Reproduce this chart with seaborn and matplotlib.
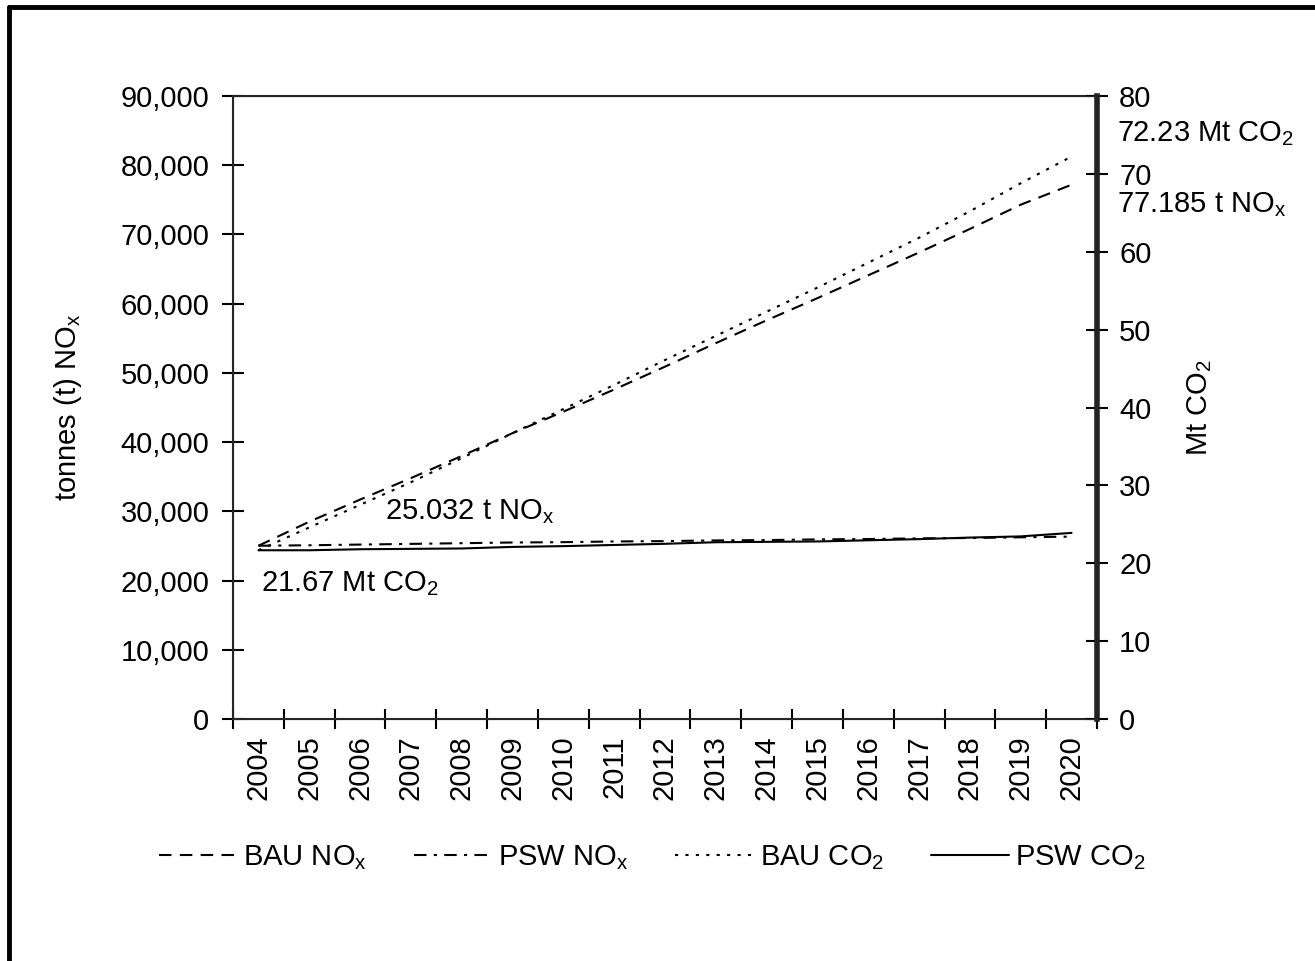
import numpy as np
import pandas as pd
import matplotlib
matplotlib.use("Agg")
import matplotlib.pyplot as plt
from matplotlib.lines import Line2D
from matplotlib.ticker import FuncFormatter
import seaborn as sns

# Datos
years = list(range(2004, 2021))
bau_nox = [25032, 28500, 31700, 34800, 38000, 41300, 44400, 47600, 50900,
           54300, 57600, 60800, 64100, 67400, 70800, 74300, 77185]
psw_nox = [25032, 25100, 25200, 25300, 25400, 25500, 25550, 25650, 25700,
           25800, 25850, 25950, 26000, 26100, 26150, 26250, 26350]
bau_co2 = [21.67, 24.6, 27.5, 30.4, 33.5, 36.7, 39.8, 42.9, 46.1,
           49.2, 52.3, 55.4, 58.6, 61.8, 65.2, 68.8, 72.23]
psw_co2 = [21.67, 21.67, 21.8, 21.85, 21.9, 22.1, 22.2, 22.35, 22.5,
           22.7, 22.75, 22.8, 22.95, 23.1, 23.3, 23.45, 23.9]

df = pd.DataFrame({"pos": np.arange(len(years)), "bau_nox": bau_nox,
                   "psw_nox": psw_nox, "bau_co2": bau_co2, "psw_co2": psw_co2})

sns.set_style("ticks")
plt.rcParams['font.family'] = ['Liberation Sans', 'DejaVu Sans']
plt.rcParams['mathtext.fontset'] = 'custom'
plt.rcParams['mathtext.rm'] = 'Liberation Sans'
plt.rcParams['mathtext.it'] = 'Liberation Sans'
plt.rcParams['mathtext.default'] = 'regular'
plt.rcParams['text.color'] = 'black'
plt.rcParams['axes.labelcolor'] = 'black'
plt.rcParams['xtick.color'] = 'black'
plt.rcParams['ytick.color'] = 'black'

fs = 21
fig = plt.figure(figsize=(13.15, 9.61), dpi=100)
ax = fig.add_axes([0.1772, 0.2518, 0.8342 - 0.1772, 0.9001 - 0.2518])
ax2 = ax.twinx()

lw = 1.5
sns.lineplot(data=df, x="pos", y="bau_nox", ax=ax, color="black", lw=lw, label="BAU NO$_x$")
sns.lineplot(data=df, x="pos", y="psw_nox", ax=ax, color="black", lw=lw, label="PSW NO$_x$")
sns.lineplot(data=df, x="pos", y="bau_co2", ax=ax2, color="black", lw=lw, label="BAU CO$_2$")
sns.lineplot(data=df, x="pos", y="psw_co2", ax=ax2, color="black", lw=lw, label="PSW CO$_2$")
ax.lines[0].set_dashes((6, 4))
ax.lines[1].set_dashes((6, 3.5, 1.5, 3.5))
ax2.lines[0].set_dashes((1.5, 3.5))
handles = [ax.lines[0], ax.lines[1], ax2.lines[0], ax2.lines[1]]
ax.get_legend().remove()
ax2.get_legend().remove()

n = len(years)
ax.set_xlim(-0.5, n - 0.5)
ax.set_ylim(0, 90000)
ax2.set_ylim(0, 80)

ax.set_xticks(np.arange(-0.5, n, 1.0))
ax.set_xticklabels([])
ax.set_xticks(np.arange(n), minor=True)
ax.set_xticklabels([str(y) for y in years], minor=True, rotation=90, fontsize=fs)
ax.tick_params(axis="x", which="minor", length=0, pad=12)
ax.tick_params(axis="x", which="major", direction="inout", length=15, width=1.5)

ax.set_yticks(np.arange(0, 90001, 10000))
ax.yaxis.set_major_formatter(FuncFormatter(lambda v, p: f"{int(v):,}"))
ax.tick_params(axis="y", direction="inout", length=16, width=1.5, labelsize=fs, pad=9)
ax2.set_yticks(np.arange(0, 81, 10))
ax2.tick_params(axis="y", direction="inout", length=16, width=1.5, labelsize=fs, pad=8)

for a in (ax, ax2):
    a.set_xlabel("")
for s in ("left", "bottom", "top"):
    ax.spines[s].set_linewidth(1.5)
ax2.spines["right"].set_linewidth(4)
ax2.spines["right"].set_color("#222222")
ax.spines["right"].set_visible(False)

ax.set_ylabel("tonnes (t) NO$_x$", fontsize=fs, labelpad=26)
ax2.set_ylabel("Mt CO$_2$", fontsize=fs, labelpad=24)

# Anotaciones
ax.annotate("25.032 t NO$_x$", xy=(2.5, 30000), xycoords="data", fontsize=fs, va="center", ha="left")
ax.annotate("21.67 Mt CO$_2$", xy=(0.05, 19600), xycoords="data", fontsize=fs, va="center", ha="left")
ax2.annotate("72.23 Mt CO$_2$", xy=(1.023, 75.2), xycoords=("axes fraction", "data"),
             fontsize=fs, va="center", ha="left", annotation_clip=False)
ax2.annotate("77.185 t NO$_x$", xy=(1.023, 66.0), xycoords=("axes fraction", "data"),
             fontsize=fs, va="center", ha="left", annotation_clip=False)

fig.legend(handles, ["BAU NO$_x$", "PSW NO$_x$", "BAU CO$_2$", "PSW CO$_2$"],
           loc="center", bbox_to_anchor=(0.496, 0.108), ncol=4, frameon=False,
           fontsize=fs, handlelength=2.7, handletextpad=0.2, columnspacing=1.6)

# Marco de la figura (izquierda y arriba)
fig.add_artist(Line2D([0.0065, 0.0065], [0, 0.993], color="black", lw=3.5, transform=fig.transFigure))
fig.add_artist(Line2D([0.0065, 1.0], [0.993, 0.993], color="black", lw=3.5, transform=fig.transFigure))

fig.savefig("out.png", dpi=100)
